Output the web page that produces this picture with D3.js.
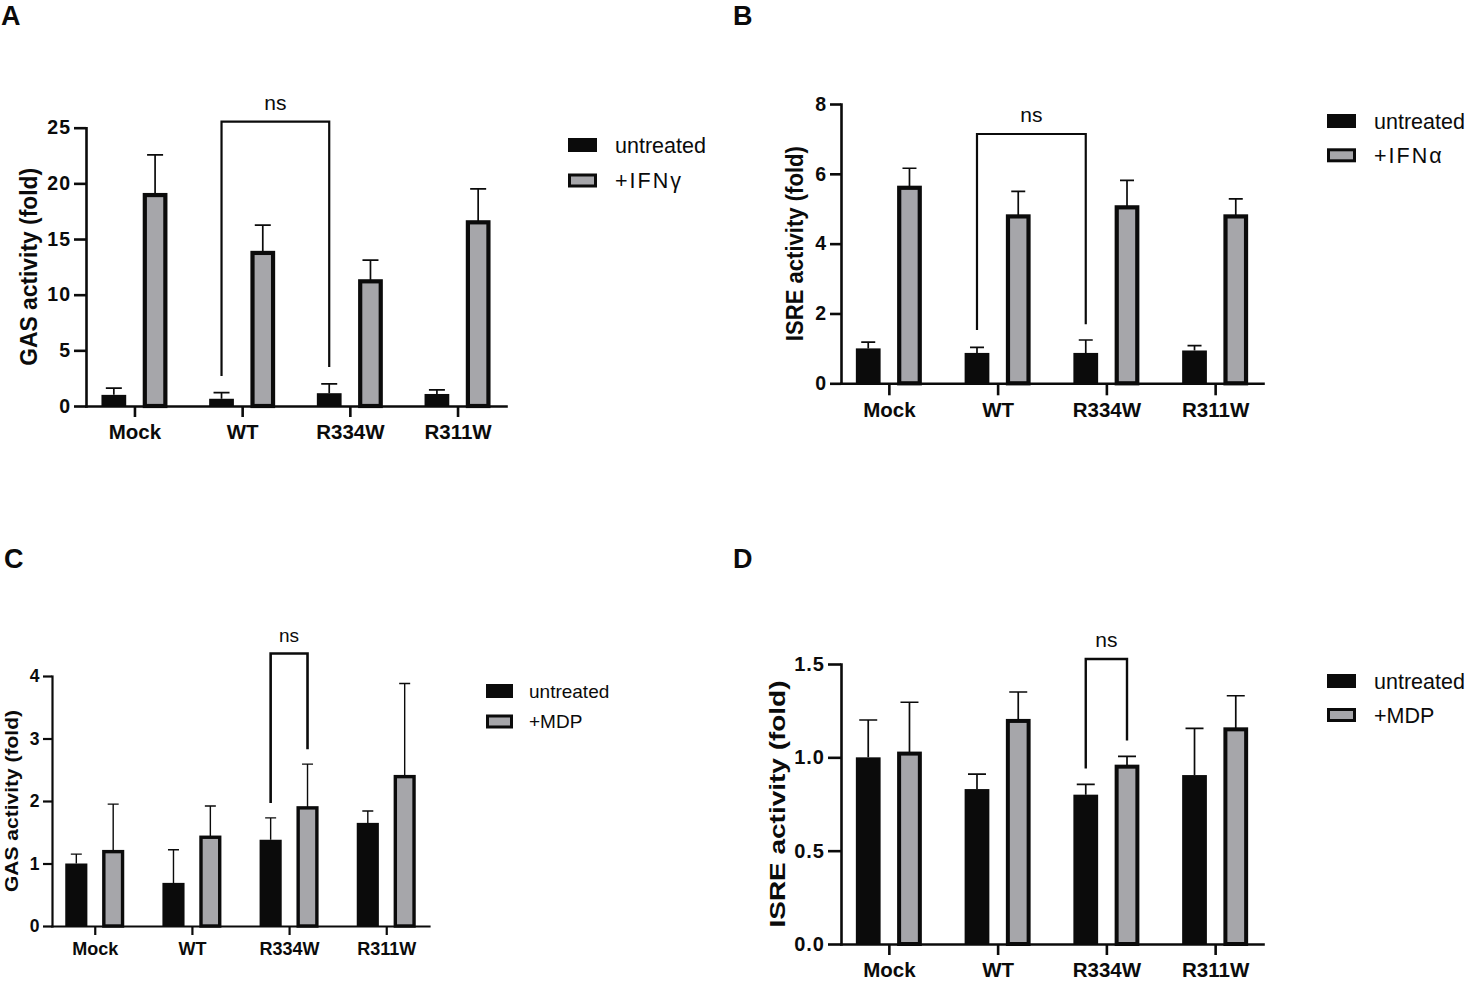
<!DOCTYPE html>
<html lang="en">
<head>
<meta charset="UTF-8">
<title>GAS / ISRE activity</title>
<script src="https://d3js.org/d3.v7.min.js"></script>
<style>
  body { margin: 0; background: #fff; }
  svg { display: block; font-family: "Liberation Sans", Arial, Helvetica, sans-serif; }
</style>
</head>
<body>
<div id="figure"></div>
<script>
	const groups = ["Mock", "WT", "R334W", "R311W"];

	// A: GAS activity, IFNγ
	const gasIfnUntreated   = [1.0, 0.65, 1.15, 1.08];
	const gasIfnUntreatedSd = [0.6, 0.55, 0.83, 0.37];
	const gasIfnTreated     = [18.95, 13.75, 11.2, 16.5];
	const gasIfnTreatedSd   = [3.6, 2.5, 1.9, 3.0];
	const gasIfnTicks       = [0, 5, 10, 15, 20, 25];

	// B: ISRE activity, IFNα
	const isreIfnUntreated   = [1.0, 0.87, 0.87, 0.94];
	const isreIfnUntreatedSd = [0.18, 0.16, 0.37, 0.14];
	const isreIfnTreated     = [5.6, 4.78, 5.04, 4.78];
	const isreIfnTreatedSd   = [0.56, 0.72, 0.77, 0.5];
	const isreIfnTicks       = [0, 2, 4, 6, 8];

	// C: GAS activity, MDP
	const gasMdpUntreated   = [1.0, 0.69, 1.38, 1.65];
	const gasMdpUntreatedSd = [0.15, 0.53, 0.35, 0.19];
	const gasMdpTreated     = [1.19, 1.42, 1.89, 2.39];
	const gasMdpTreatedSd   = [0.76, 0.5, 0.7, 1.49];
	const gasMdpTicks       = [0, 1, 2, 3, 4];

	// D: ISRE activity, MDP
	const isreMdpUntreated   = [1.0, 0.83, 0.80, 0.905];
	const isreMdpUntreatedSd = [0.2, 0.08, 0.055, 0.25];
	const isreMdpTreated     = [1.02, 1.195, 0.95, 1.15];
	const isreMdpTreatedSd   = [0.275, 0.155, 0.055, 0.18];
	const isreMdpTicks       = [0, 0.5, 1.0, 1.5];

	// "ns" brackets: [group index, series index] at each end, top value, leg end values
	const bracketA = {from: [1, 0], to: [2, 0], top: 25.55, legs: [2.7, 3.5]};
	const bracketB = {from: [1, 0], to: [2, 0], top: 7.14, legs: [1.53, 1.69]};
	const bracketC = {from: [2, 0], to: [2, 1], top: 4.36, legs: [1.97, 2.83]};
	const bracketD = {from: [2, 0], to: [2, 1], top: 1.527, legs: [0.94, 1.09]};

	const black = "#0b0b0b", gray = "#a6a6aa";

	const panels = [
		{letter: "A", lx: 1, ly: 25,
			untreated: gasIfnUntreated, untreatedSd: gasIfnUntreatedSd,
			treated: gasIfnTreated, treatedSd: gasIfnTreatedSd, ticks: gasIfnTicks, fmt: d3.format("d"),
			treatLabel: "+IFNγ", yLabel: "GAS activity (fold)", bracket: bracketA,
			left: 86, right: 506, bottom: 406, top: 127.7, pad: 0.45, half: 33,
			axisW: 2.6, tickLen: 12, xTickLen: 11, tickFont: 19.5, tickSpacing: 1, xFont: 20.5, xLabelY: 439,
			yLabelX: 29, yLabelLen: 198, yLabelFont: 23, capW: 16, barStroke: 4.2, errW: 1.7, brW: 2.2,
			nsFont: 21, legend: {x: 568, y: 145, dy: 35.5, w: 29, h: 14, tx: 615, font: 21.5}},
		{letter: "B", lx: 733, ly: 25,
			untreated: isreIfnUntreated, untreatedSd: isreIfnUntreatedSd,
			treated: isreIfnTreated, treatedSd: isreIfnTreatedSd, ticks: isreIfnTicks, fmt: d3.format("d"),
			treatLabel: "+IFNα", yLabel: "ISRE activity (fold)", bracket: bracketB,
			left: 841, right: 1263, bottom: 383.3, top: 104, pad: 0.44, half: 33,
			axisW: 2.6, tickLen: 11, xTickLen: 12, tickFont: 19.5, tickSpacing: 1, xFont: 20.5, xLabelY: 417,
			yLabelX: 795, yLabelLen: 195, yLabelFont: 23, capW: 14, barStroke: 4.2, errW: 1.7, brW: 2.2,
			nsFont: 21, legend: {x: 1327, y: 121, dy: 34.3, w: 29, h: 14, tx: 1374, font: 21.5}},
		{letter: "C", lx: 4, ly: 568,
			untreated: gasMdpUntreated, untreatedSd: gasMdpUntreatedSd,
			treated: gasMdpTreated, treatedSd: gasMdpTreatedSd, ticks: gasMdpTicks, fmt: d3.format("d"),
			treatLabel: "+MDP", yLabel: "GAS activity (fold)", bracket: bracketC,
			left: 52, right: 429, bottom: 926, top: 676, pad: 0.44, half: 29.5,
			axisW: 2.2, tickLen: 9, xTickLen: 9, tickFont: 17.5, tickSpacing: 0.5, xFont: 18, xLabelY: 955,
			yLabelX: 11, yLabelLen: 182, yLabelFont: 19, capW: 11, barStroke: 3.4, errW: 1.4, brW: 2.6,
			nsFont: 19, legend: {x: 486, y: 691, dy: 30.5, w: 27, h: 14, tx: 529, font: 19}},
		{letter: "D", lx: 733, ly: 568,
			untreated: isreMdpUntreated, untreatedSd: isreMdpUntreatedSd,
			treated: isreMdpTreated, treatedSd: isreMdpTreatedSd, ticks: isreMdpTicks, fmt: d3.format(".1f"),
			treatLabel: "+MDP", yLabel: "ISRE activity (fold)", bracket: bracketD,
			left: 841, right: 1263, bottom: 944, top: 664, pad: 0.44, half: 33,
			axisW: 2.6, tickLen: 13, xTickLen: 11, tickFont: 20, tickSpacing: 1, xFont: 20.5, xLabelY: 977,
			yLabelX: 777, yLabelLen: 247, yLabelFont: 22, capW: 18, barStroke: 4, errW: 1.7, brW: 2.4,
			nsFont: 21, legend: {x: 1327, y: 681, dy: 34, w: 29, h: 14, tx: 1374, font: 21.5}}
	];

	const svg = d3.select("#figure")
		.append("svg")
			.attr("width", 1466)
			.attr("height", 981);

	panels.forEach(drawPanel);

	function drawPanel(p) {
		const g = svg.append("g");

		const x = d3.scalePoint().domain(groups).range([p.left, p.right]).padding(p.pad);
		const inner = d3.scaleBand().domain([0, 1]).range([-p.half, p.half]).paddingInner(0.4);
		const y = d3.scaleLinear().domain([0, d3.max(p.ticks)]).range([p.bottom, p.top]);
		const bw = inner.bandwidth();
		const cx = (i, k) => x(groups[i]) + inner(k) + bw / 2;

		const series = [
			{k: 0, vals: p.untreated, sd: p.untreatedSd},
			{k: 1, vals: p.treated, sd: p.treatedSd}
		];

		series.forEach(s => {
			const cells = s.vals.map((v, i) => ({i: i, v: v, sd: s.sd[i]}));
			const sw = s.k === 1 ? p.barStroke : 0;

			// error bars (upper only)
			g.selectAll(null)
				.data(cells)
				.join("path")
				.attr("d", d => {
					const xc = cx(d.i, s.k), y1 = y(d.v + d.sd);
					return `M${xc},${y(d.v)}V${y1}M${xc - p.capW / 2},${y1}H${xc + p.capW / 2}`;
				})
				.attr("stroke", black)
				.attr("stroke-width", p.errW)
				.attr("fill", "none");

			// bars
			g.selectAll(null)
				.data(cells)
				.join("rect")
				.attr("x", d => x(groups[d.i]) + inner(s.k) + sw / 2)
				.attr("y", d => y(d.v))
				.attr("width", bw - sw)
				.attr("height", d => y(0) - y(d.v))
				.attr("fill", s.k === 1 ? gray : black)
				.attr("stroke", s.k === 1 ? black : "none")
				.attr("stroke-width", sw);
		});

		// Y axis
		const yAxis = g.append("g")
			.attr("transform", `translate(${p.left}, 0)`)
			.call(d3.axisLeft(y).tickValues(p.ticks).tickFormat(p.fmt).tickSize(p.tickLen).tickSizeOuter(0).tickPadding(3));
		// X axis
		const xAxis = g.append("g")
			.attr("transform", `translate(0, ${p.bottom})`)
			.call(d3.axisBottom(x).tickSize(p.xTickLen).tickSizeOuter(0));

		[yAxis, xAxis].forEach(a => {
			a.attr("font-family", null).attr("font-size", null);
			a.select(".domain").attr("stroke", black).attr("stroke-width", p.axisW).attr("stroke-linecap", "square");
			a.selectAll(".tick line").attr("stroke", black).attr("stroke-width", p.axisW);
		});
		yAxis.selectAll(".tick text")
			.attr("fill", black)
			.style("font-size", `${p.tickFont}px`)
			.style("font-weight", "bold")
			.style("letter-spacing", `${p.tickSpacing}px`);
		xAxis.selectAll(".tick text")
			.attr("fill", black)
			.attr("y", p.xLabelY - p.bottom)
			.attr("dy", null)
			.style("font-size", `${p.xFont}px`)
			.style("font-weight", "bold");

		// Y axis title
		g.append("text")
			.attr("transform", `translate(${p.yLabelX}, ${(p.top + p.bottom) / 2}) rotate(-90)`)
			.attr("text-anchor", "middle")
			.attr("dominant-baseline", "central")
			.attr("textLength", p.yLabelLen)
			.attr("lengthAdjust", "spacingAndGlyphs")
			.style("font-size", `${p.yLabelFont}px`)
			.style("font-weight", "bold")
			.attr("fill", black)
			.text(p.yLabel);

		// ns bracket
		const b = p.bracket;
		const x1 = cx(b.from[0], b.from[1]), x2 = cx(b.to[0], b.to[1]);
		g.append("path")
			.attr("d", `M${x1},${y(b.legs[0])}V${y(b.top)}H${x2}V${y(b.legs[1])}`)
			.attr("fill", "none")
			.attr("stroke", black)
			.attr("stroke-width", p.brW);
		g.append("text")
			.attr("x", (x1 + x2) / 2)
			.attr("y", y(b.top) - 12)
			.attr("text-anchor", "middle")
			.style("font-size", `${p.nsFont}px`)
			.attr("fill", black)
			.text("ns");

		// legend
		const L = p.legend;
		const rows = [{name: "untreated", k: 0}, {name: p.treatLabel, k: 1}];
		const lg = g.selectAll(null).data(rows).join("g")
			.attr("transform", (d, i) => `translate(0, ${L.y + i * L.dy})`);
		lg.append("rect")
			.attr("x", d => L.x + (d.k ? 1.5 : 0))
			.attr("y", d => -L.h / 2 + (d.k ? 1.5 : 0))
			.attr("width", d => L.w - (d.k ? 3 : 0))
			.attr("height", d => L.h - (d.k ? 3 : 0))
			.attr("fill", d => d.k ? gray : black)
			.attr("stroke", d => d.k ? black : "none")
			.attr("stroke-width", 3);
		lg.append("text")
			.attr("x", L.tx)
			.attr("y", L.font * 0.36)
			.style("font-size", `${L.font}px`)
			.style("letter-spacing", d => d.k && p.treatLabel.includes("IFN") ? "2px" : "0px")
			.attr("fill", black)
			.text(d => d.name);

		// panel letter
		g.append("text")
			.attr("x", p.lx)
			.attr("y", p.ly)
			.style("font-size", "27px")
			.style("font-weight", "bold")
			.attr("fill", black)
			.text(p.letter);
	}
</script>
</body>
</html>
